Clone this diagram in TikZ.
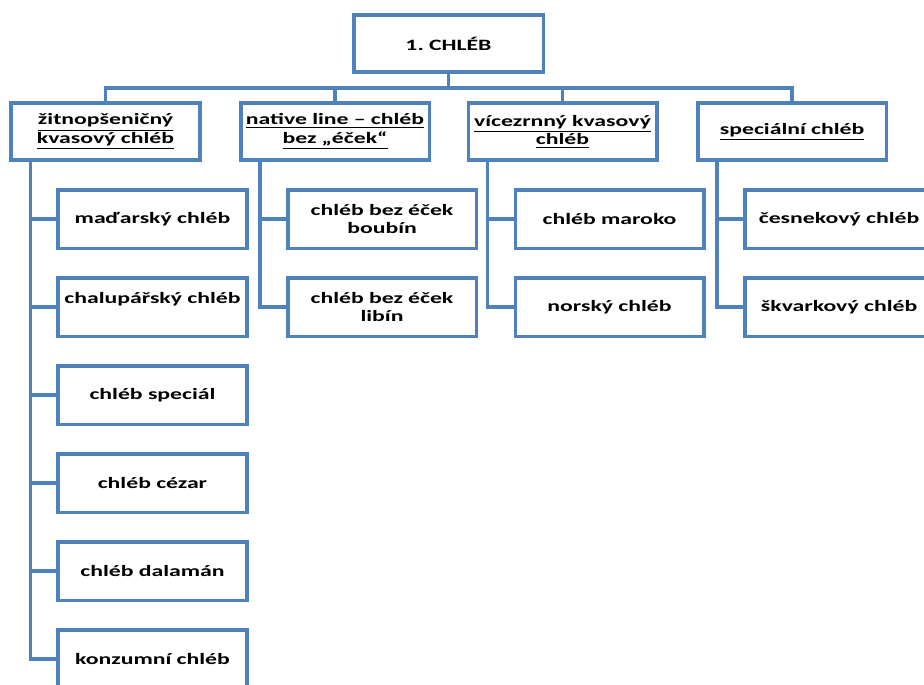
\documentclass[tikz,border=0pt]{standalone}
\usepackage{fontspec}
\setmainfont[FakeStretch=1.5]{Carlito}
\usetikzlibrary{positioning}
\definecolor{boxblue}{HTML}{4F81BD}
\frenchspacing

\begin{document}
\begin{tikzpicture}[
		node distance=0.52cm,
		box/.style={
			draw=boxblue,
			line width=2pt,
			align=center,
			text width=3.7cm,
			inner sep=1pt,
			minimum width=3.73cm,
			minimum height=1.15cm,
			font=\fontsize{9}{10.4}\selectfont\bfseries
		},
		leaf/.style={box, minimum height=1.17cm},
		link/.style={draw=boxblue, line width=2pt}
		]
		
		\useasboundingbox (0,0) rectangle (18.48,-13.68);
		\clip (0,0) rectangle (18.48,-13.68);
		
		\node[box, minimum width=3.79cm] (root) at (8.97,-0.87) {1. CHLÉB};
		
		\node[box] (rye) at (2.11,-2.63)
		{\underline{žitnopšeničný}\\\underline{kvasový chléb}};
		
		\node[box, right=0.75cm of rye] (native)
		{\underline{native line – chléb}\\\underline{bez „éček“}};
		
		\node[box, right=0.71cm of native] (multi)
		{\underline{vícezrnný kvasový}\\\underline{chléb}};
		
		\node[box, right=0.75cm of multi] (special)
		{\underline{speciální chléb}};
		
		\node[leaf, below right=0.52cm and 0.94cm of rye.south west] (hu)
		{maďarský chléb};
		
		\node[leaf, below=of hu] (cottage)
		{chalupářský chléb\\\mbox{}};
		
		\node[leaf, below=of cottage] (spec)
		{chléb speciál};
		
		\node[leaf, below=of spec] (caesar)
		{chléb cézar};
		
		\node[leaf, below=of caesar] (dalaman)
		{chléb dalamán};
		
		\node[leaf, below=of dalaman] (consum)
		{konzumní chléb};
		
		\node[leaf, below right=0.52cm and 0.94cm of native.south west] (boubin)
		{chléb bez éček\\boubín};
		
		\node[leaf, below=of boubin] (libin)
		{chléb bez éček\\libín};
		
		\node[leaf, below right=0.52cm and 0.94cm of multi.south west] (maroko)
		{chléb maroko};
		
		\node[leaf, below=of maroko] (norsk)
		{norský chléb};
		
		\node[leaf, below right=0.52cm and 0.94cm of special.south west] (garlic)
		{česnekový chléb};
		
		\node[leaf, below=of garlic] (crackl)
		{škvarkový chléb};
		
		\draw[link] (root.south) -- ++(0,-0.28) coordinate (hub);
		\draw[link] (rye.north) |- (hub) -| (special.north);
		\draw[link] (native.north) -- (native.north |- hub);
		\draw[link] (multi.north) -- (multi.north |- hub);
		
		\draw[link] ([xshift=0.42cm]rye.south west) |- (hu.west);
		\draw[link] ([xshift=0.42cm]rye.south west) |- (cottage.west);
		\draw[link] ([xshift=0.42cm]rye.south west) |- (spec.west);
		\draw[link] ([xshift=0.42cm]rye.south west) |- (caesar.west);
		\draw[link] ([xshift=0.42cm]rye.south west) |- (dalaman.west);
		\draw[link] ([xshift=0.42cm]rye.south west) |- (consum.west);
		
		\draw[link] ([xshift=0.42cm]native.south west) |- (boubin.west);
		\draw[link] ([xshift=0.42cm]native.south west) |- (libin.west);
		
		\draw[link] ([xshift=0.42cm]multi.south west) |- (maroko.west);
		\draw[link] ([xshift=0.42cm]multi.south west) |- (norsk.west);
		
		\draw[link] ([xshift=0.42cm]special.south west) |- (garlic.west);
		\draw[link] ([xshift=0.42cm]special.south west) |- (crackl.west);
		
	\end{tikzpicture}
\end{document}
